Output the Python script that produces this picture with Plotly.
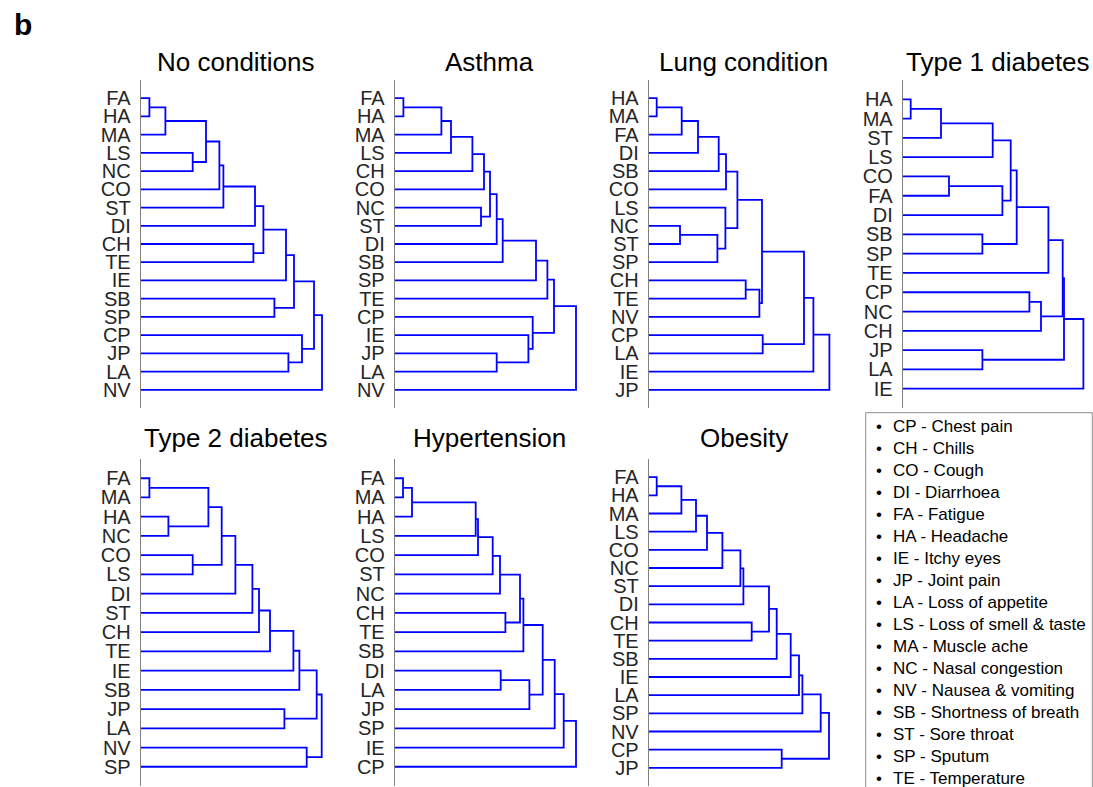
import plotly.graph_objects as go

# ---------------- DATA ----------------
panel_titles = ["No conditions", "Asthma", "Lung condition", "Type 1 diabetes",
                "Type 2 diabetes", "Hypertension", "Obesity"]

# leaves are listed top-to-bottom; links: (node_a, node_b, merge_height)
# node index < n refers to a leaf, n + k refers to the k-th link
no_conditions_leaves = ["FA", "HA", "MA", "LS", "NC", "CO", "ST", "DI", "CH", "TE",
                        "IE", "SB", "SP", "CP", "JP", "LA", "NV"]
no_conditions_links = [(0, 1, 8.7), (17, 2, 24.7), (3, 4, 52.0), (18, 19, 65.3),
                       (20, 5, 78.7), (21, 6, 82.7), (22, 7, 114.3), (8, 9, 112.7),
                       (23, 24, 122.7), (25, 10, 145.3), (11, 12, 133.7), (26, 27, 153.3),
                       (14, 15, 147.7), (13, 29, 161.3), (28, 30, 173.3), (31, 16, 181.3)]

asthma_leaves = ["FA", "HA", "MA", "LS", "CH", "CO", "NC", "ST", "DI", "SB",
                 "SP", "TE", "CP", "IE", "JP", "LA", "NV"]
asthma_links = [(0, 1, 8.7), (17, 2, 46.7), (18, 3, 56.3), (19, 4, 77.7),
                (20, 5, 89.3), (6, 7, 86.3), (21, 22, 95.3), (23, 8, 102.0),
                (24, 9, 108.0), (25, 10, 141.3), (26, 11, 152.7), (14, 15, 102.0),
                (13, 28, 133.7), (12, 29, 138.0), (27, 30, 159.3), (31, 16, 181.3)]

lung_leaves = ["HA", "MA", "FA", "DI", "SB", "CO", "LS", "NC", "ST", "SP",
               "CH", "TE", "NV", "CP", "LA", "IE", "JP"]
lung_links = [(0, 1, 8.0), (17, 2, 33.0), (18, 3, 49.3), (19, 4, 70.0),
              (20, 5, 77.3), (7, 8, 31.3), (22, 9, 68.7), (6, 23, 76.7),
              (21, 24, 88.7), (10, 11, 97.0), (26, 12, 110.7), (25, 27, 113.3),
              (13, 14, 114.0), (28, 29, 155.3), (30, 15, 164.7), (31, 16, 180.7)]

type1_leaves = ["HA", "MA", "ST", "LS", "CO", "FA", "DI", "SB", "SP", "TE",
                "CP", "NC", "CH", "JP", "LA", "IE"]
type1_links = [(0, 1, 8.0), (16, 2, 38.3), (17, 3, 90.0), (4, 5, 46.3),
               (19, 6, 99.7), (18, 20, 108.0), (7, 8, 79.7), (21, 22, 114.0),
               (23, 9, 145.7), (10, 11, 126.7), (25, 12, 138.3), (24, 26, 160.0),
               (13, 14, 79.7), (27, 28, 161.3), (29, 15, 180.7)]

type2_leaves = ["FA", "MA", "HA", "NC", "CO", "LS", "DI", "ST", "CH", "TE",
                "IE", "SB", "JP", "LA", "NV", "SP"]
type2_links = [(0, 1, 8.7), (2, 3, 27.7), (16, 17, 67.7), (4, 5, 52.0),
               (18, 19, 81.0), (20, 6, 94.7), (21, 7, 111.7), (22, 8, 118.3),
               (23, 9, 129.3), (24, 10, 152.7), (25, 11, 158.7), (12, 13, 143.7),
               (26, 27, 176.0), (14, 15, 166.0), (28, 29, 181.0)]

hypertension_leaves = ["FA", "MA", "HA", "LS", "CO", "ST", "NC", "CH", "TE", "SB",
                       "DI", "LA", "JP", "SP", "IE", "CP"]
hypertension_links = [(0, 1, 8.3), (16, 2, 17.3), (17, 3, 81.0), (18, 4, 83.3),
                      (19, 5, 98.0), (20, 6, 105.3), (7, 8, 110.7), (21, 22, 125.3),
                      (23, 9, 128.7), (10, 11, 106.0), (25, 12, 134.7), (24, 26, 148.0),
                      (27, 13, 160.0), (28, 14, 169.0), (29, 15, 181.3)]

obesity_leaves = ["FA", "HA", "MA", "LS", "CO", "NC", "ST", "DI", "CH", "TE",
                  "SB", "IE", "LA", "SP", "NV", "CP", "JP"]
obesity_links = [(0, 1, 8.0), (17, 2, 32.7), (18, 3, 47.3), (19, 4, 58.3),
                 (20, 5, 73.7), (21, 6, 91.7), (22, 7, 94.7), (8, 9, 103.0),
                 (23, 24, 120.3), (25, 10, 128.0), (26, 11, 142.0), (27, 12, 150.3),
                 (28, 13, 153.7), (29, 14, 172.0), (15, 16, 133.0), (30, 31, 180.3)]

legend_codes = ["CP", "CH", "CO", "DI", "FA", "HA", "IE", "JP", "LA", "LS",
                "MA", "NC", "NV", "SB", "ST", "SP", "TE"]
legend_names = ["Chest pain", "Chills", "Cough", "Diarrhoea", "Fatigue", "Headache",
                "Itchy eyes", "Joint pain", "Loss of appetite", "Loss of smell & taste",
                "Muscle ache", "Nasal congestion", "Nausea & vomiting",
                "Shortness of breath", "Sore throat", "Sputum", "Temperature"]

panels = [(no_conditions_leaves, no_conditions_links), (asthma_leaves, asthma_links),
          (lung_leaves, lung_links), (type1_leaves, type1_links),
          (type2_leaves, type2_links), (hypertension_leaves, hypertension_links),
          (obesity_leaves, obesity_links)]

# ---------------- LAYOUT ----------------
W, H = 1093, 787
FONT = "Liberation Sans, Arial, Helvetica, sans-serif"
axis_left_px = [140.7, 394.7, 648.7, 902.7, 140.7, 394.7, 648.7]
row_px = [(80, 408), (80, 408), (80, 408), (80, 408),
          (459, 786), (459, 786), (459, 786)]
title_y_px = [62, 62, 62, 62, 438, 438, 438]
AX_W = 190.5
X_MAX = 190.5


def segments(n, links):
    ypos = {i: i + 1 for i in range(n)}
    hpos = {i: 0.0 for i in range(n)}
    xs, ys = [], []
    for k, (a, b, h) in enumerate(links):
        xs += [hpos[a], h, h, hpos[b], None]
        ys += [ypos[a], ypos[a], ypos[b], ypos[b], None]
        ypos[n + k] = (ypos[a] + ypos[b]) / 2.0
        hpos[n + k] = h
    return xs, ys


fig = go.Figure()
layout = dict(width=W, height=H, margin=dict(l=0, r=0, t=0, b=0),
              paper_bgcolor="white", plot_bgcolor="white", showlegend=False,
              font=dict(family=FONT, color="#262626"))
annotations = []

for i, (leaves, links) in enumerate(panels):
    n = len(leaves)
    xs, ys = segments(n, links)
    idx = "" if i == 0 else str(i + 1)
    fig.add_trace(go.Scatter(x=xs, y=ys, mode="lines",
                             line=dict(color="#0000ff", width=1.8),
                             xaxis="x" + idx, yaxis="y" + idx,
                             hoverinfo="skip"))
    x0 = axis_left_px[i]
    x1 = min(x0 + AX_W, W - 0.1)
    yt, yb = row_px[i]
    layout["xaxis" + idx] = dict(domain=[x0 / W, x1 / W], range=[0, X_MAX * (x1 - x0) / AX_W],
                                 visible=False, anchor="y" + idx)
    layout["yaxis" + idx] = dict(domain=[1 - yb / H, 1 - yt / H], range=[n + 1, 0],
                                 anchor="x" + idx, tickmode="array",
                                 tickvals=list(range(1, n + 1)), ticktext=leaves,
                                 ticks="", showgrid=False, zeroline=False,
                                 showline=True, linecolor="#808080", linewidth=1,
                                 ticklabelstandoff=5,
                                 tickfont=dict(family=FONT, size=20, color="#262626"))
    annotations.append(dict(text=panel_titles[i], xref="paper", yref="paper",
                            x=(x0 + AX_W / 2) / W, y=1 - title_y_px[i] / H,
                            xanchor="center", yanchor="middle", showarrow=False,
                            font=dict(family=FONT, size=26, color="#000000")))

# panel letter
annotations.append(dict(text="<b>b</b>", xref="paper", yref="paper",
                        x=12 / W, y=1 - 25 / H, xanchor="left", yanchor="middle",
                        showarrow=False, font=dict(family=FONT, size=30, color="#000000")))

# legend box
for j, (code, name) in enumerate(zip(legend_codes, legend_names)):
    ypx = 426 + j * 22.06
    annotations.append(dict(text="•", xref="paper", yref="paper", x=879 / W,
                            y=1 - ypx / H, xanchor="center", yanchor="middle",
                            showarrow=False, font=dict(family=FONT, size=17, color="#000000")))
    annotations.append(dict(text=f"{code} - {name}", xref="paper", yref="paper",
                            x=891 / W, y=1 - ypx / H, xanchor="left", yanchor="middle",
                            showarrow=False, font=dict(family=FONT, size=17, color="#000000")))

layout["annotations"] = annotations
layout["shapes"] = [dict(type="rect", xref="paper", yref="paper",
                         x0=865.7 / W, x1=1092.3 / W, y0=1 - 800 / H, y1=1 - 412.7 / H,
                         line=dict(color="#8c8c8c", width=1), fillcolor="rgba(0,0,0,0)")]

fig.update_layout(**layout)
fig.write_html("out.html", config={"displayModeBar": False},
               post_script="document.body.style.margin='0';"
                           "document.body.style.overflow='hidden';"
                           "document.documentElement.style.overflow='hidden';")
